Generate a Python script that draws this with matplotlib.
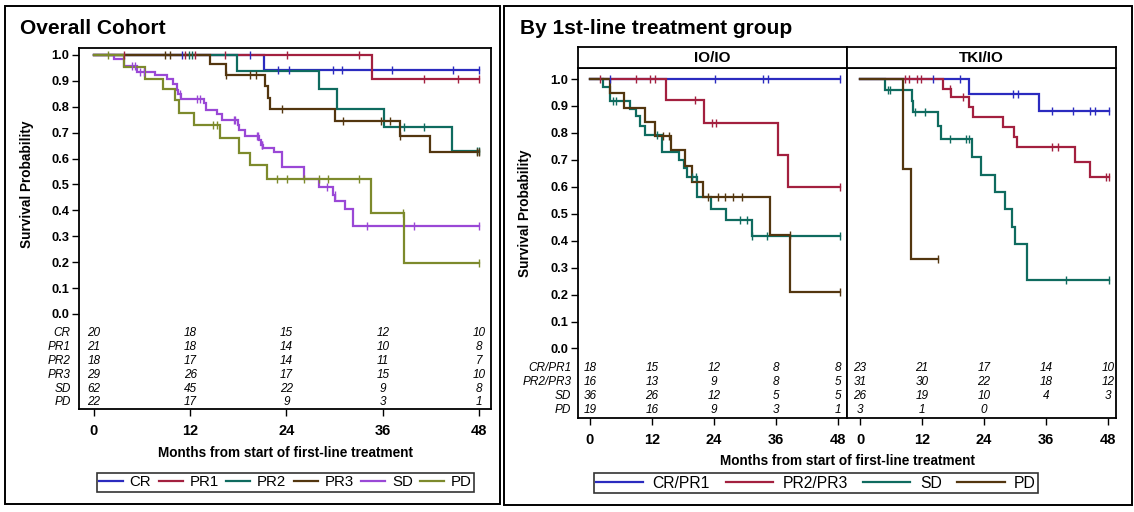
import numpy as np
import matplotlib
matplotlib.use("Agg")
import matplotlib.pyplot as plt
from matplotlib.lines import Line2D
from matplotlib.patches import Rectangle

plt.rcParams['font.family'] = ['Liberation Sans', 'DejaVu Sans']

W, H = 1134, 512

# ---------------- data: overall cohort ----------------
overall_groups = ["CR", "PR1", "PR2", "PR3", "SD", "PD"]
overall_colors = ["#2b2bbf", "#a3203f", "#0f6b5f", "#53360f", "#9a48d6", "#7d8a2c"]

cr_t = [21.2];            cr_s = [0.941]
cr_c = [11.0, 19.5, 23.0, 24.3, 29.8, 30.9, 37.2, 44.7, 48.0]
pr1_t = [34.7];           pr1_s = [0.907]
pr1_c = [3.7, 11.3, 12.6, 16.3, 24.1, 33.0, 41.1, 45.4, 48.0]
pr2_t = [17.8, 28.1, 30.3, 36.2, 44.6]
pr2_s = [0.938, 0.867, 0.793, 0.721, 0.630]
pr2_c = [11.8, 12.2, 38.7, 41.1, 47.8, 48.0]
pr3_t = [14.5, 16.4, 21.3, 21.7, 22.0, 30.0, 38.1, 41.9]
pr3_s = [0.964, 0.924, 0.880, 0.835, 0.793, 0.745, 0.688, 0.625]
pr3_c = [8.9, 9.5, 16.4, 19.5, 20.2, 23.4, 31.1, 35.8, 36.9, 38.1, 47.8, 48.0]
sd_t = [2.5, 3.7, 5.3, 7.6, 9.1, 9.8, 10.3, 10.5, 10.9, 13.7, 14.0, 15.3, 15.9,
        17.9, 18.1, 18.8, 20.6, 20.8, 21.1, 22.4, 23.4, 26.2, 28.1, 29.8, 30.1,
        31.3, 32.3]
sd_s = [0.984, 0.958, 0.936, 0.923, 0.906, 0.887, 0.865, 0.848, 0.831, 0.813,
        0.788, 0.772, 0.749, 0.730, 0.710, 0.687, 0.672, 0.653, 0.642, 0.627,
        0.569, 0.520, 0.492, 0.460, 0.438, 0.405, 0.338]
sd_c = [4.7, 5.1, 5.7, 6.2, 10.7, 12.8, 13.2, 17.4, 17.6, 20.3, 20.5, 20.9,
        21.0, 29.0, 30.0, 34.0, 39.9, 48.0]
pd_t = [3.7, 6.4, 8.6, 10.1, 10.6, 12.5, 15.7, 18.1, 19.5, 21.6, 34.5, 38.7]
pd_s = [0.955, 0.909, 0.867, 0.825, 0.777, 0.728, 0.679, 0.622, 0.574, 0.522,
        0.391, 0.196]
pd_c = [1.8, 14.9, 15.3, 22.8, 24.1, 26.2, 28.0, 29.2, 33.0, 38.5, 48.0]

overall_risk = [[20, 18, 15, 12, 10],
                [21, 18, 14, 10, 8],
                [18, 17, 14, 11, 7],
                [29, 26, 17, 15, 10],
                [62, 45, 22, 9, 8],
                [22, 17, 9, 3, 1]]

# ---------------- data: by treatment group ----------------
grp_labels = ["CR/PR1", "PR2/PR3", "SD", "PD"]
grp_colors = ["#2b2bbf", "#a3203f", "#0f6b5f", "#53360f"]

io_crpr1_t = [];  io_crpr1_s = []
io_crpr1_c = [3.9, 24.2, 33.4, 34.5, 48.4]
io_pr23_t = [14.7, 22.0, 36.3, 38.3]
io_pr23_s = [0.923, 0.838, 0.717, 0.598]
io_pr23_c = [1.9, 9.0, 11.6, 12.6, 20.3, 23.7, 24.4, 48.4]
io_sd_t = [2.5, 3.9, 7.7, 9.0, 9.7, 10.6, 13.9, 17.3, 18.1, 18.7, 20.8, 23.5, 26.3, 31.3]
io_sd_s = [0.972, 0.917, 0.889, 0.861, 0.826, 0.793, 0.731, 0.700, 0.669, 0.638,
           0.563, 0.519, 0.476, 0.417]
io_sd_c = [4.5, 5.1, 13.0, 19.7, 20.5, 29.0, 30.3, 31.3, 34.2, 48.4]
io_pd_t = [3.9, 6.5, 10.6, 12.6, 15.6, 18.4, 19.8, 21.9, 34.8, 38.8]
io_pd_s = [0.949, 0.891, 0.842, 0.790, 0.737, 0.677, 0.619, 0.563, 0.423, 0.209]
io_pd_c = [14.2, 15.2, 22.9, 24.8, 26.1, 27.7, 29.4, 38.7, 48.4]

tki_crpr1_t = [21.1, 34.6]
tki_crpr1_s = [0.946, 0.882]
tki_crpr1_c = [14.2, 19.4, 29.7, 30.6, 37.1, 41.2, 44.6, 45.5, 48.1]
tki_pr23_t = [16.0, 17.6, 21.1, 21.8, 27.7, 29.9, 30.3, 41.7, 44.5]
tki_pr23_s = [0.963, 0.932, 0.896, 0.860, 0.822, 0.784, 0.747, 0.692, 0.638]
tki_pr23_c = [8.8, 9.4, 11.0, 11.9, 17.4, 20.0, 37.1, 38.4, 47.6, 48.1]
tki_sd_t = [4.8, 10.0, 10.3, 15.0, 15.6, 21.6, 23.4, 26.1, 28.1, 29.5, 30.0, 32.3]
tki_sd_s = [0.959, 0.917, 0.876, 0.826, 0.776, 0.712, 0.644, 0.582, 0.519, 0.451,
            0.389, 0.256]
tki_sd_c = [5.5, 5.8, 10.6, 12.6, 17.4, 20.6, 21.1, 39.8, 48.1]
tki_pd_t = [8.4, 9.9]
tki_pd_s = [0.668, 0.331]
tki_pd_c = [15.0]

io_risk = [[18, 15, 12, 8, 8],
           [16, 13, 9, 8, 5],
           [36, 26, 12, 5, 5],
           [19, 16, 9, 3, 1]]
tki_risk = [[23, 21, 17, 14, 10],
            [31, 30, 22, 18, 12],
            [26, 19, 10, 4, 3],
            [3, 1, 0, None, None]]

risk_times = [0, 12, 24, 36, 48]
xticks = [0, 12, 24, 36, 48]
yticks = [0.0, 0.1, 0.2, 0.3, 0.4, 0.5, 0.6, 0.7, 0.8, 0.9, 1.0]
xlabel = "Months from start of first-line treatment"
ylabel = "Survival Probability"


def rect(x0, y0, x1, y1):
    return [x0 / W, 1 - y1 / H, (x1 - x0) / W, (y1 - y0) / H]


def km(ax, t, s, c, color):
    t = np.asarray(t, float); s = np.asarray(s, float); c = np.asarray(c, float)
    end = max(c.max() if c.size else 0, t.max() if t.size else 0)
    xs = np.r_[0.0, t, end]
    ys = np.r_[1.0, s, s[-1] if s.size else 1.0]
    ax.step(xs, ys, where='post', color=color, lw=1.6, solid_joinstyle='miter',
            zorder=3)
    idx = np.searchsorted(t, c, side='right')
    cy = np.r_[1.0, s][idx]
    ax.plot(c, cy, ls='none', marker='|', ms=5.5, mew=1.0, color=color, zorder=4)


def style_axes(ax, ylim, xlim, show_y=True, xpad=6):
    ax.set_xlim(*xlim)
    ax.set_ylim(*ylim)
    ax.set_xticks(xticks)
    ax.set_xticklabels([str(x) for x in xticks], fontsize=10.5, fontweight='bold')
    ax.tick_params(axis='x', direction='out', length=5, width=1.0, pad=xpad)
    if show_y:
        ax.set_yticks(yticks)
        ax.set_yticklabels([f"{v:.1f}" for v in yticks], fontsize=9.3,
                           fontweight='bold')
        ax.tick_params(axis='y', direction='out', length=5, width=1.0, pad=2)
    else:
        ax.set_yticks([])
    for sp in ax.spines.values():
        sp.set_linewidth(1.3)
        sp.set_color('black')


fig = plt.figure(figsize=(W / 100, H / 100), dpi=100)

# outer frames
fig.add_artist(Rectangle((5 / W, 1 - 504 / H), 495 / W, 498 / H, transform=fig.transFigure,
                         fill=False, lw=1.4, ec='black'))
fig.add_artist(Rectangle((504 / W, 1 - 505 / H), 628 / W, 499 / H, transform=fig.transFigure,
                         fill=False, lw=1.4, ec='black'))

# titles
fig.text(20 / W, 1 - 29 / H, "Overall Cohort", fontsize=15, fontweight='bold',
         va='center', ha='left')
fig.text(520 / W, 1 - 29 / H, "By 1st-line treatment group", fontsize=15,
         fontweight='bold', va='center', ha='left')

# ---------------- left panel ----------------
axL = fig.add_axes(rect(79, 48, 491, 409))
ov_t = [cr_t, pr1_t, pr2_t, pr3_t, sd_t, pd_t]
ov_s = [cr_s, pr1_s, pr2_s, pr3_s, sd_s, pd_s]
ov_c = [cr_c, pr1_c, pr2_c, pr3_c, sd_c, pd_c]
for t, s, c, col in zip(ov_t, ov_s, ov_c, overall_colors):
    km(axL, t, s, c, col)
style_axes(axL, (-0.367, 1.027), (-1.87, 49.5), xpad=5.5)
rowsL = [-0.073, -0.127, -0.181, -0.236, -0.290, -0.340]
for g, row, yv in zip(overall_groups, overall_risk, rowsL):
    axL.text(-2.9, yv, g, ha='right', va='center', fontsize=8.5, style='italic',
             clip_on=False)
    for tt, n in zip(risk_times, row):
        axL.text(tt, yv, str(n), ha='center', va='center', fontsize=8.5,
                 style='italic')
fig.text(27 / W, 1 - 184 / H, ylabel, rotation=90, fontsize=9.8, fontweight='bold',
         ha='center', va='center')
fig.text(285 / W, 1 - 453 / H, xlabel, fontsize=9.8, fontweight='bold',
         ha='center', va='center')
hL = [Line2D([], [], color=c, lw=1.6) for c in overall_colors]
fig.legend(hL, overall_groups, loc='center', bbox_to_anchor=(285.5 / W, 1 - 482.5 / H),
           ncol=6, frameon=True, fancybox=False, edgecolor='black', fontsize=10.8,
           handlelength=1.6, handletextpad=0.45, columnspacing=0.5, borderpad=0.15,
           borderaxespad=0).get_frame().set_linewidth(1.2)

# ---------------- right panels ----------------
axIO = fig.add_axes(rect(578, 68, 847, 418))
axTK = fig.add_axes(rect(847, 68, 1116, 418))
io_all = [(io_crpr1_t, io_crpr1_s, io_crpr1_c), (io_pr23_t, io_pr23_s, io_pr23_c),
          (io_sd_t, io_sd_s, io_sd_c), (io_pd_t, io_pd_s, io_pd_c)]
tk_all = [(tki_crpr1_t, tki_crpr1_s, tki_crpr1_c), (tki_pr23_t, tki_pr23_s, tki_pr23_c),
          (tki_sd_t, tki_sd_s, tki_sd_c), (tki_pd_t, tki_pd_s, tki_pd_c)]
for (t, s, c), col in zip(io_all, grp_colors):
    if len(t) == 0:
        end = max(c)
        axIO.plot([0, end], [1.0, 1.0], color=col, lw=1.6, zorder=3)
        axIO.plot(c, np.ones(len(c)), ls='none', marker='|', ms=5.5, mew=1.0,
                  color=col, zorder=4)
    else:
        km(axIO, t, s, c, col)
for (t, s, c), col in zip(tk_all, grp_colors):
    km(axTK, t, s, c, col)
style_axes(axIO, (-0.258, 1.041), (-2.32, 49.74), xpad=5.5)
style_axes(axTK, (-0.258, 1.041), (-2.52, 49.55), show_y=False, xpad=5.5)

rowsR = [-0.072, -0.124, -0.176, -0.228]
for g, yv in zip(grp_labels, rowsR):
    axIO.text(-3.6, yv, g, ha='right', va='center', fontsize=8.5, style='italic',
              clip_on=False)
for ax, tab in ((axIO, io_risk), (axTK, tki_risk)):
    for row, yv in zip(tab, rowsR):
        for tt, n in zip(risk_times, row):
            if n is None:
                continue
            ax.text(tt, yv, str(n), ha='center', va='center', fontsize=8.5,
                    style='italic')

# strips
for (x0, x1), lab in (((578, 847), "IO/IO"), ((847, 1116), "TKI/IO")):
    sax = fig.add_axes(rect(x0, 47, x1, 68))
    sax.set_xticks([]); sax.set_yticks([])
    for sp in sax.spines.values():
        sp.set_linewidth(1.3)
    sax.text(0.5, 0.5, lab, ha='center', va='center', fontsize=11,
             fontweight='bold', transform=sax.transAxes)

fig.text(525 / W, 1 - 213 / H, ylabel, rotation=90, fontsize=9.8, fontweight='bold',
         ha='center', va='center')
fig.text(847 / W, 1 - 461 / H, xlabel, fontsize=9.8, fontweight='bold',
         ha='center', va='center')
hR = [Line2D([], [], color=c, lw=1.6) for c in grp_colors]
fig.legend(hR, grp_labels, loc='center', bbox_to_anchor=(816 / W, 1 - 483 / H),
           ncol=4, frameon=True, fancybox=False, edgecolor='black', fontsize=11.3,
           handlelength=3.0, handletextpad=0.6, columnspacing=1.0, borderpad=0.15,
           borderaxespad=0).get_frame().set_linewidth(1.2)

fig.savefig("out.png", dpi=100)
